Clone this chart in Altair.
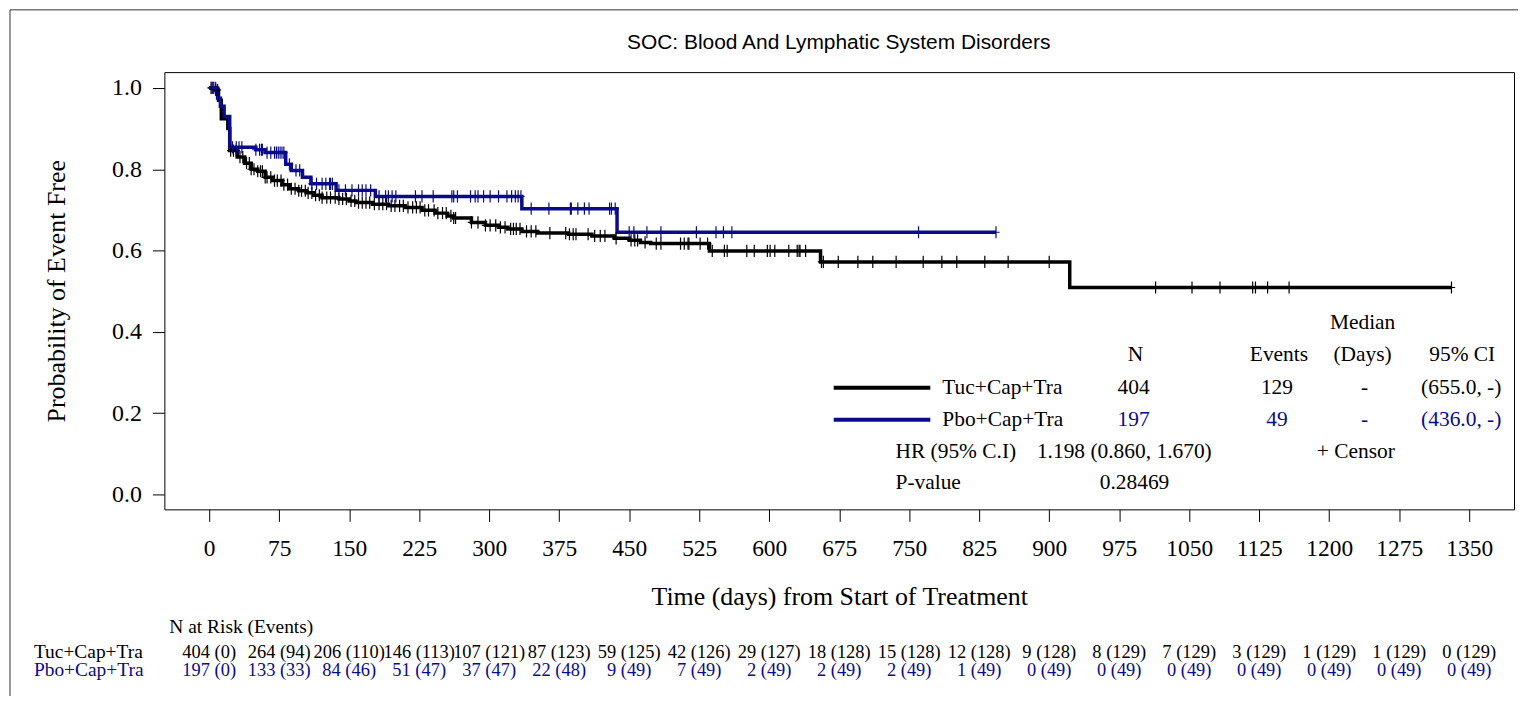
import altair as alt
import pandas as pd

# ---------------- data ----------------
groups = ["Tuc+Cap+Tra", "Pbo+Cap+Tra"]
group_colors = ["#000000", "#0a0a8c"]

# Kaplan-Meier step points (time in days, probability event free)
tuc_t = [0, 6, 10, 13, 20, 22, 30, 38, 45, 52, 60, 68, 78, 86, 96, 104, 112, 121, 139, 150,
         157, 175, 192, 210, 228, 242, 255, 262, 281, 296, 310, 320, 335, 352, 385, 410, 434,
         450, 462, 473, 536, 655, 922, 1331]
tuc_s = [1.0, 0.995, 0.97, 0.924, 0.90, 0.846, 0.83, 0.815, 0.80, 0.795, 0.78, 0.772, 0.762,
         0.752, 0.747, 0.742, 0.736, 0.730, 0.727, 0.722, 0.718, 0.714, 0.710, 0.706, 0.699,
         0.692, 0.685, 0.680, 0.669, 0.662, 0.657, 0.653, 0.647, 0.643, 0.640, 0.636, 0.630,
         0.625, 0.620, 0.617, 0.599, 0.572, 0.509, 0.509]

pbo_t = [0, 9, 12, 16, 22, 50, 60, 82, 88, 100, 109, 136, 178, 335, 437, 843]
pbo_s = [1.0, 0.975, 0.955, 0.93, 0.854, 0.848, 0.841, 0.812, 0.797, 0.780, 0.764, 0.748,
         0.733, 0.703, 0.645, 0.645]

# censor times
tuc_cens = [2, 4, 7, 9, 23, 26, 29, 33, 36, 40, 43, 45, 48, 52, 55, 57, 60, 62, 66, 70, 73,
            77, 80, 84, 88, 92, 96, 99, 103, 106, 110, 114, 118, 121, 126, 130, 135, 139, 143,
            147, 152, 156, 160, 164, 168, 172, 177, 182, 186, 190, 195, 199, 204, 208, 213,
            218, 222, 226, 231, 235, 241, 245, 250, 254, 259, 262, 264, 281, 288, 296, 301,
            307, 312, 317, 323, 326, 329, 333, 340, 345, 350, 365, 382, 386, 390, 393, 406,
            413, 419, 424, 436, 452, 456, 459, 467, 479, 484, 505, 509, 513, 514, 526, 534,
            539, 552, 555, 576, 584, 598, 601, 606, 621, 630, 632, 633, 639, 656, 658, 674,
            695, 711, 736, 765, 785, 801, 831, 856, 900, 1014, 1053, 1083, 1118, 1121, 1134,
            1157, 1331]
pbo_cens = [3, 5, 7, 25, 29, 32, 35, 50, 54, 56, 57, 62, 66, 70, 72, 74, 76, 78, 80, 86, 93,
            97, 110, 115, 121, 125, 129, 130, 132, 139, 146, 153, 160, 164, 168, 173, 182, 189,
            192, 196, 200, 221, 228, 240, 260, 262, 266, 280, 285, 288, 294, 301, 310, 319, 324,
            328, 331, 334, 345, 364, 387, 388, 395, 402, 407, 429, 431, 435, 450, 455, 469, 484,
            522, 543, 551, 560, 760, 843]

# number at risk table
risk_times = [0, 75, 150, 225, 300, 375, 450, 525, 600, 675, 750, 825, 900, 975, 1050, 1125,
              1200, 1275, 1350]
tuc_risk = [404, 264, 206, 146, 107, 87, 59, 42, 29, 18, 15, 12, 9, 8, 7, 3, 1, 1, 0]
tuc_events = [0, 94, 110, 113, 121, 123, 125, 126, 127, 128, 128, 128, 128, 129, 129, 129, 129, 129, 129]
pbo_risk = [197, 133, 84, 51, 37, 22, 9, 7, 2, 2, 2, 1, 0, 0, 0, 0, 0, 0, 0]
pbo_events = [0, 33, 46, 47, 47, 48, 49, 49, 49, 49, 49, 49, 49, 49, 49, 49, 49, 49, 49]

y_ticks = [0.0, 0.2, 0.4, 0.6, 0.8, 1.0]

title_text = "SOC: Blood And Lymphatic System Disorders"
x_title = "Time (days) from Start of Treatment"
y_title = "Probability of Event Free"

summary_n = ["404", "197"]
summary_events = ["129", "49"]
summary_median = ["-", "-"]
summary_ci = ["(655.0, -)", "(436.0, -)"]
hr_text = "1.198 (0.860, 1.670)"
p_text = "0.28469"

# ---------------- build tables ----------------
def step_value(ts, ss, t):
    v = ss[0]
    for ti, si in zip(ts, ss):
        if ti <= t:
            v = si
    return v

curve_rows = []
for g, ts, ss in [(groups[0], tuc_t, tuc_s), (groups[1], pbo_t, pbo_s)]:
    for ti, si in zip(ts, ss):
        curve_rows.append({"group": g, "t": ti, "s": si})
curves = pd.DataFrame(curve_rows)

cens_rows = []
for g, ts, ss, cs in [(groups[0], tuc_t, tuc_s, tuc_cens), (groups[1], pbo_t, pbo_s, pbo_cens)]:
    for c in cs:
        cens_rows.append({"group": g, "t": c, "s": step_value(ts, ss, c)})
cens = pd.DataFrame(cens_rows)

def risk_table(rk, ev):
    return pd.DataFrame({"t": risk_times, "label": [f"{r} ({e})" for r, e in zip(rk, ev)]})

SERIF = "Liberation Serif"
SANS = "Liberation Sans"
BLUE = group_colors[1]

color_scale = alt.Scale(domain=groups, range=group_colors)

x_enc = alt.X(
    "t:Q",
    scale=alt.Scale(domain=[-48, 1398], nice=False, zero=False),
    axis=alt.Axis(values=risk_times, format="d", title=x_title, grid=False, domain=False,
                  tickSize=12, tickColor="black", tickWidth=1,
                  labelFont=SERIF, labelFontSize=23.5, labelColor="black", labelPadding=15,
                  labelFlush=False, labelOverlap=False,
                  titleFont=SERIF, titleFontSize=26, titleFontWeight="normal",
                  titleColor="black", titlePadding=24),
)
y_enc = alt.Y(
    "s:Q",
    scale=alt.Scale(domain=[-0.037, 1.039], nice=False, zero=False),
    axis=alt.Axis(values=y_ticks, format=".1f", title=y_title, grid=False, domain=False,
                  tickSize=12, tickColor="black", tickWidth=1,
                  labelFont=SERIF, labelFontSize=24, labelColor="black", labelPadding=11,
                  labelFlush=False,
                  titleFont=SERIF, titleFontSize=26, titleFontWeight="normal",
                  titleColor="black", titlePadding=42),
)

lines = alt.Chart(curves).mark_line(interpolate="step-after", strokeWidth=3.5).encode(
    x=x_enc, y=y_enc,
    color=alt.Color("group:N", scale=color_scale, legend=None),
    order=alt.Order("t:Q"),
)

plus_path = "M-0.6,0L0.6,0M0,-1L0,1"
censors = alt.Chart(cens).mark_point(shape=plus_path, size=150, strokeWidth=1.2,
                                     filled=False, opacity=1).encode(
    x=x_enc, y=y_enc,
    color=alt.Color("group:N", scale=color_scale, legend=None),
)

# origin of the plot area is (165, 71) on the page
OX, OY = 165, 71

def risk_layer(df, py, color):
    return alt.Chart(df).mark_text(font=SERIF, fontSize=18.5, align="center",
                                   baseline="middle", color=color).encode(
        x=x_enc, y=alt.value(py - OY), text="label:N")

risk_layers = [risk_layer(risk_table(tuc_risk, tuc_events), 653, group_colors[0]),
               risk_layer(risk_table(pbo_risk, pbo_events), 671, BLUE)]

def txt(s, px, py, align="left", color="black", size=21.5, font=SERIF):
    return alt.Chart(pd.DataFrame({"v": [s]})).mark_text(
        font=font, fontSize=size, align=align, baseline="middle", color=color
    ).encode(x=alt.value(px - OX), y=alt.value(py - OY), text="v:N")

def seg(px1, px2, py, color):
    return alt.Chart(pd.DataFrame({"v": [0]})).mark_rule(strokeWidth=4, color=color).encode(
        x=alt.value(px1 - OX), x2=alt.value(px2 - OX), y=alt.value(py - OY))

texts = [
    txt(title_text, 842, 42, "center", size=21, font=SANS),
    txt("Median", 1368, 323, "center"),
    txt("N", 1140, 355, "center"),
    txt("Events", 1284, 355, "center"),
    txt("(Days)", 1368, 355, "center"),
    txt("95% CI", 1468, 355, "center"),
    txt(groups[0], 946, 388),
    txt(summary_n[0], 1138, 388, "center"),
    txt(summary_events[0], 1282, 388, "center"),
    txt(summary_median[0], 1370, 388, "center"),
    txt(summary_ci[0], 1467, 388, "center"),
    txt(groups[1], 946, 420),
    txt(summary_n[1], 1138, 420, "center", BLUE),
    txt(summary_events[1], 1282, 420, "center", BLUE),
    txt(summary_median[1], 1370, 420, "center", BLUE),
    txt(summary_ci[1], 1467, 420, "center", BLUE),
    txt("HR (95% C.I)", 899, 452),
    txt(hr_text, 1041, 452),
    txt("+ Censor", 1322, 452),
    txt("P-value", 899, 484),
    txt(p_text, 1139, 484, "center"),
    txt("N at Risk (Events)", 170, 628, size=19.5),
    txt(groups[0], 34, 653, size=19.5),
    txt(groups[1], 34, 671, color=BLUE, size=19.5),
]
segs = [seg(837, 934, 388, group_colors[0]), seg(837, 934, 420, group_colors[1])]

outer = alt.Chart(pd.DataFrame({"v": [0]})).mark_rect(
    fill="transparent", stroke="#333333", strokeWidth=1
).encode(x=alt.value(10 - OX), x2=alt.value(1540 - OX), y=alt.value(8.5 - OY),
         y2=alt.value(760 - OY))

chart = alt.layer(outer, lines, censors, *risk_layers, *segs, *texts).properties(
    width=1355, height=439,
    padding={"left": 157, "top": 63, "right": 4, "bottom": 186},
    autosize=alt.AutoSizeParams(type="none"),
    background="white",
).configure_view(stroke="black", strokeWidth=1)

chart.save("out.html", embed_options={"renderer": "svg", "actions": False})
